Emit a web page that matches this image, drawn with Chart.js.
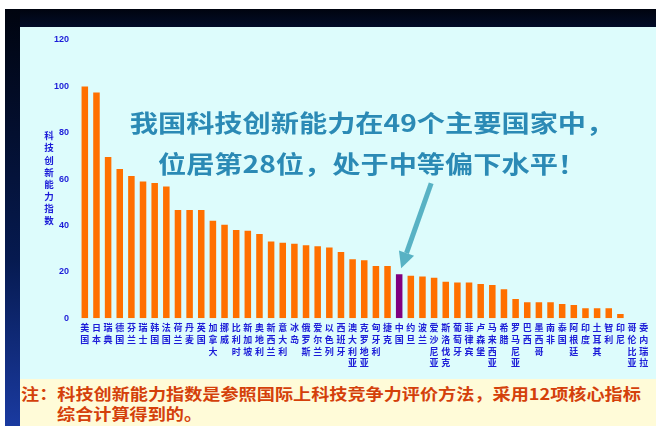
<!DOCTYPE html>
<html>
<head>
<meta charset="utf-8">
<script src="https://cdn.jsdelivr.net/npm/chart.js@4.4.1/dist/chart.umd.min.js"></script>
<style>
  body { margin: 0; width: 656px; height: 426px; overflow: hidden; background: #fff; position: relative; font-family: "Noto Sans CJK SC", sans-serif; }
  #topband { position: absolute; left: 5px; top: 9px; width: 651px; height: 18px; background: linear-gradient(#00040f, #020c28); }
  #leftband { position: absolute; left: 5px; top: 9px; width: 15px; height: 417px; background: linear-gradient(#00040f 0%, #061a50 60%, #1a3aa0 100%); }
  #panel { position: absolute; left: 20px; top: 27px; width: 636px; height: 352px; background: #ddfcfc; }
  canvas { position: absolute; left: 0; top: 0; }
  .title { position: absolute; left: 372px; white-space: nowrap; font-weight: bold; font-size: 23.5px; line-height: 30px; color: #2b8ab5; transform: translateX(-50%) scaleX(1.2); }
  #ytitle { position: absolute; left: 42px; top: 131px; writing-mode: vertical-rl; text-orientation: upright; font-weight: bold; font-size: 9.5px; letter-spacing: 2.6px; color: #1c1cd8; }
  #note { position: absolute; left: 20px; top: 379px; width: 636px; height: 47px; background: #fffbd8; }
  .note { position: absolute; white-space: nowrap; font-weight: bold; font-size: 15.5px; line-height: 20px; color: #d4400a; transform-origin: left center; transform: scaleX(1.17); }
</style>
</head>
<body>
<div id="topband"></div>
<div id="leftband"></div>
<div id="panel"></div>
<canvas id="myChart" width="656" height="426"></canvas>
<div class="title" style="top:107px">我国科技创新能力在49个主要国家中，</div>
<div class="title" style="top:148px">位居第28位，处于中等偏下水平！</div>
<div id="ytitle">科技创新能力指数</div>
<div id="note"></div>
<div class="note" style="left:21px;top:383px">注：科技创新能力指数是参照国际上科技竞争力评价方法，采用12项核心指标</div>
<div class="note" style="left:57px;top:403px">综合计算得到的。</div>
<script>
const countries = ["美国", "日本", "瑞典", "德国", "芬兰", "瑞士", "韩国", "法国", "荷兰", "丹麦",
  "英国", "加拿大", "挪威", "比利时", "新加坡", "奥地利", "新西兰", "意大利", "冰岛", "俄罗斯",
  "爱尔兰", "以色列", "西班牙", "澳大利亚", "克罗地亚", "匈牙利", "捷克", "中国", "约旦", "波兰",
  "爱沙尼亚", "斯洛伐克", "葡萄牙", "菲律宾", "卢森堡", "马来西亚", "希腊", "罗马尼亚", "巴西", "墨西哥",
  "南非", "泰国", "阿根廷", "印度", "土耳其", "智利", "印尼", "哥伦比亚", "委内瑞拉"];
const indexValues = [100, 97.4, 69.5, 64.4, 61.4, 59, 58.3, 56.8, 46.7, 46.7,
  46.7, 42.1, 40.3, 38.1, 37.7, 36.3, 33.1, 32.6, 32.1, 31.5,
  31.1, 30.5, 28.6, 25.5, 25.0, 22.6, 22.6, 19.0, 18.4, 18.0,
  17.5, 15.8, 15.4, 15.4, 14.8, 14.4, 12.5, 8.3, 6.9, 6.9,
  6.9, 6.2, 5.7, 4.3, 4.3, 4.3, 1.9, 0, 0];
const yTicks = [0, 20, 40, 60, 80, 100, 120];
const highlight = "中国";

const barColors = countries.map(c => c === highlight ? "#800080" : "#ff7000");

// arrow pointing at the highlighted bar
const arrowPlugin = {
  id: "arrow",
  afterDatasetsDraw(chart) {
    const i = countries.indexOf(highlight);
    const bar = chart.getDatasetMeta(0).data[i];
    const ctx = chart.ctx;
    const tx = bar.x + 2, ty = bar.y - 6;
    const sx = bar.x + 32, sy = bar.y - 91;
    const ang = Math.atan2(ty - sy, tx - sx);
    const head = 16, half = 8;
    const bx = tx - head * Math.cos(ang), by = ty - head * Math.sin(ang);
    ctx.save();
    ctx.strokeStyle = "#58b2c4";
    ctx.fillStyle = "#58b2c4";
    ctx.lineWidth = 5;
    ctx.beginPath();
    ctx.moveTo(sx, sy);
    ctx.lineTo(bx, by);
    ctx.stroke();
    ctx.beginPath();
    ctx.moveTo(tx, ty);
    ctx.lineTo(bx + half * Math.sin(ang), by - half * Math.cos(ang));
    ctx.lineTo(bx - half * Math.sin(ang), by + half * Math.cos(ang));
    ctx.closePath();
    ctx.fill();
    ctx.restore();
  }
};

const data = {
  labels: countries.map(c => c.split("")),
  datasets: [
    {
      data: indexValues,
      backgroundColor: barColors,
      borderWidth: 0,
      barPercentage: 0.56,
      categoryPercentage: 1,
    },
  ],
};

const config = {
  type: "bar",
  data: data,
  options: {
    responsive: false,
    animation: false,
    layout: { padding: { left: 0, right: 6.5, top: 40, bottom: 0 } },
    scales: {
      x: {
        grid: { display: false, drawTicks: false },
        border: { display: false },
        afterFit(scale) { scale.height = 107.7; },
        ticks: {
          autoSkip: false,
          maxRotation: 0,
          minRotation: 0,
          padding: 4,
          color: "#1c1cd8",
          font: { family: "Noto Sans CJK SC", size: 9, weight: "bold", lineHeight: 1.28 },
        },
      },
      y: {
        min: 0,
        max: 120,
        grid: { display: false, drawTicks: false },
        border: { display: false },
        afterFit(scale) { scale.width = 79; },
        afterBuildTicks(scale) { scale.ticks = yTicks.map(v => ({ value: v })); },
        ticks: {
          padding: 10,
          color: "#1c1cd8",
          font: { family: "Liberation Sans", size: 9, weight: "bold" },
        },
      },
    },
    plugins: {
      legend: { display: false },
      tooltip: { enabled: false },
    },
  },
  plugins: [arrowPlugin],
};
new Chart(document.getElementById("myChart"), config);
</script>
</body>
</html>
